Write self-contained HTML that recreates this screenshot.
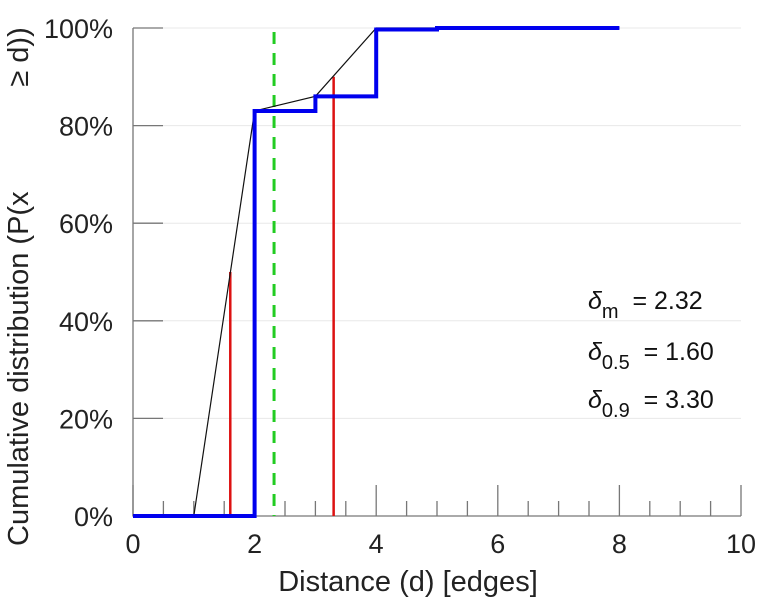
<!DOCTYPE html>
<html><head><meta charset="utf-8"><style>
body{margin:0;background:#fff}
svg{font-family:"Liberation Sans",sans-serif}
text{white-space:pre}
</style></head><body>
<svg id="c" width="759" height="600"></svg>
<script>
const xTicks=[0,2,4,6,8,10];
const yTicks=[0,20,40,60,80,100];
const stepX=[0,2,2,3,3,4,4,5,5,8];
const stepY=[0,0,83,83,86,86,99.7,99.7,100,100];
const lineX=[1,2,3,4,8];
const lineY=[0,83,86,100,100];
const redX=[1.6,3.3];
const redY=[50,90];
const meanX=2.32;
const X=v=>133+v*60.8, Y=v=>516-v*4.88;
const s=document.getElementById('c');const NS='http://www.w3.org/2000/svg';
function el(t,a,txt){const e=document.createElementNS(NS,t);for(const k in a)e.setAttribute(k,a[k]);if(txt!==undefined)e.textContent=txt;s.appendChild(e);return e;}
yTicks.forEach(t=>{
 const g=el('line',{x1:133,x2:741,y1:Y(t),y2:Y(t),stroke:'#e8e8e8','stroke-width':1});
 
 
 const tk=el('line',{x1:133,x2:163,y1:Y(t),y2:Y(t),stroke:'#777','stroke-width':1.3});
 
 
 const lb=el('text',{x:113,y:Y(t)+10,'text-anchor':'end','font-size':27,fill:'#222'},t+'%');
 
 
});
for(let v=0;v<=10.001;v+=0.5){
 const maj=Math.abs(v-Math.round(v/2)*2)<1e-6;
 const tk=el('line',{x1:X(v),x2:X(v),y1:maj?485:501,y2:516,stroke:'#777','stroke-width':1.3});
 
 
}
xTicks.forEach(t=>{
 const lb=el('text',{x:X(t),y:553,'text-anchor':'middle','font-size':27,fill:'#222'},t);
 
 
});
const ax=el('path',{d:`M133 28V516H741`,fill:'none',stroke:'#777','stroke-width':1.3});


const mean=el('line',{x1:X(meanX),x2:X(meanX),y1:32,y2:516,stroke:'#22cc22','stroke-width':3,'stroke-dasharray':'12,9'});


redX.forEach((v,i)=>{
 const r=el('line',{x1:X(v),x2:X(v),y1:Y(redY[i]),y2:516,stroke:'#dd1111','stroke-width':2.5});
 
 
});
const bl=el('polyline',{points:lineX.map((v,i)=>X(v)+','+Y(lineY[i])).join(' '),fill:'none',stroke:'#111','stroke-width':1.2});


const st=el('polyline',{points:stepX.map((v,i)=>X(v)+','+Y(stepY[i])).join(' '),fill:'none',stroke:'#0000ee','stroke-width':4});


const xt=el('text',{x:408,y:591,'text-anchor':'middle','font-size':29,fill:'#222'},'Distance (d) [edges]');


const yt=el('text',{x:0,y:0,'text-anchor':'start','font-size':29,fill:'#222',transform:'translate(28,546) rotate(-90)'},'Cumulative distribution (P(x             ≥ d))');


const ann=[['m','2.32',309],['0.5','1.60',360],['0.9','3.30',408]];
ann.forEach(a=>{
 const t=el('text',{x:588,y:a[2],'font-size':25,fill:'#111'});
 
 
 t.innerHTML=`<tspan font-style="italic">δ</tspan><tspan dy="9" font-size="20">${a[0]}</tspan><tspan dy="-9">  = ${a[1]}</tspan>`;
});
</script>
</body></html>
